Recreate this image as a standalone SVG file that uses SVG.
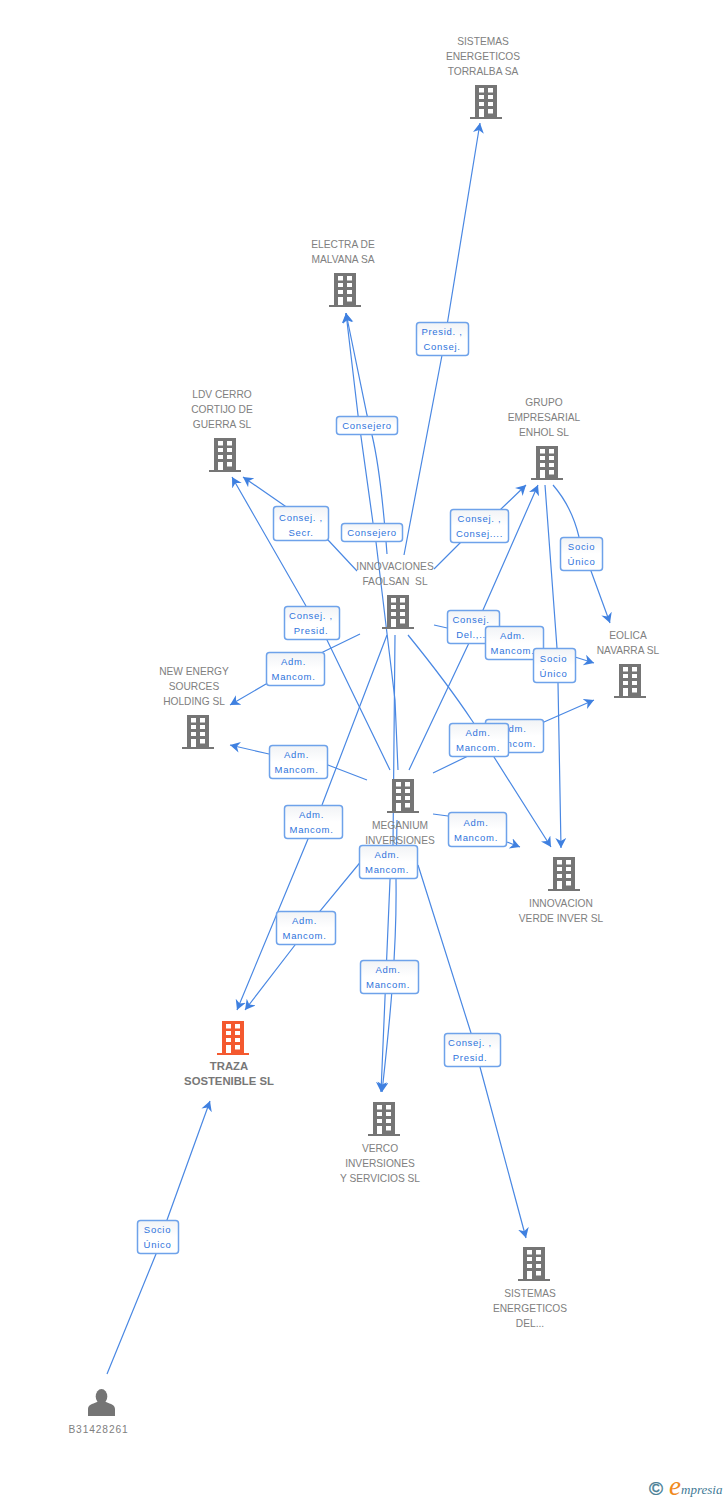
<svg xmlns="http://www.w3.org/2000/svg" width="728" height="1500" viewBox="0 0 728 1500">
<style>
.c{fill:none;stroke:#4a88e3;stroke-width:1.2;marker-end:url(#a)}
.n{font:10.2px "Liberation Sans",Arial,sans-serif;fill:#808080;text-anchor:middle;white-space:pre}
.t{font-weight:bold;font-size:11.300px;fill:#777}
.b rect{fill:url(#g);stroke:#6ea2ea;stroke-width:1.5}
.b text{font:9.5px "Liberation Sans",Arial,sans-serif;fill:#2f74dc;text-anchor:middle;letter-spacing:.7px}
</style>
<defs>
<linearGradient id="g" x1="0" y1="0" x2="0" y2="1"><stop offset="0" stop-color="#f1f3f6"/><stop offset=".5" stop-color="#fff"/><stop offset="1" stop-color="#fff"/></linearGradient>
<marker id="a" markerUnits="userSpaceOnUse" markerWidth="13" markerHeight="13" refX="10" refY="5.500" orient="auto"><path d="M10,5.500L0,0L3,5.500L0,11Z" fill="#3f80e0"/></marker>
<path id="bd" fill-rule="evenodd" d="M5,0H27V32H32V34H0V32H5ZM9,3V7.500H14V3ZM18,3V7.500H23V3ZM9,10V14H14V10ZM18,10V14H23V10ZM9,17V21H14V17ZM18,17V21H23V17ZM9,24V32H14V24ZM18,24V28.500H23V24Z"/>
</defs>
<g id="connectors">
<path class="c" d="M404,555L443,350L480,123"/>
<path class="c" d="M398,770L395,700L376,542L373,523L358,415L346,313"/>
<path class="c" d="M387,554C383,500 378,460 372,435L367,415L346,313"/>
<path class="c" d="M357,571L329,541L285,506L243,477"/>
<path class="c" d="M390,770L327,640L306,606L232,477"/>
<path class="c" d="M434,569L460,543L500,510L526,485"/>
<path class="c" d="M409,770L468,645L483,610L538,485"/>
<path class="c" d="M434,625L575,657L594,663"/>
<path class="c" d="M545,485L557,648L558,683L561,848"/>
<path class="c" d="M553,485C566,500 575,520 579,537L591,571L610,623"/>
<path class="c" d="M433,773L466,757L544,722L594,700"/>
<path class="c" d="M408,635C430,662 455,695 473,722L494,757L551,847"/>
<path class="c" d="M433,814L448,816L507,842L520,847"/>
<path class="c" d="M360,634L323,652L266,684L230,705"/>
<path class="c" d="M367,780L328,765L269,754L230,745"/>
<path class="c" d="M387,635L322,805L308,839L237,1010"/>
<path class="c" d="M372,848L320,911L295,945L245,1010"/>
<path class="c" d="M395,635L393,845L390,880L381,1092"/>
<path class="c" d="M397,820L396,880C397,950 390,1020 382,1092"/>
<path class="c" d="M418,865L471,1033L480,1067L526,1238"/>
<path class="c" d="M107,1374L156,1254L167,1220L210,1101"/>
</g>
<g fill="#757575">
<g id="n-torralba"><use href="#bd" x="470" y="85"/><text class="n"><tspan x="483" y="45">SISTEMAS</tspan><tspan x="483" y="60">ENERGETICOS</tspan><tspan x="483" y="75">TORRALBA SA</tspan></text></g>
<g id="n-electra"><use href="#bd" x="329" y="273"/><text class="n"><tspan x="343" y="248">ELECTRA DE</tspan><tspan x="343" y="263">MALVANA SA</tspan></text></g>
<g id="n-ldv"><use href="#bd" x="209" y="438"/><text class="n"><tspan x="222" y="398">LDV CERRO</tspan><tspan x="222" y="413">CORTIJO DE</tspan><tspan x="222" y="428">GUERRA SL</tspan></text></g>
<g id="n-grupo"><use href="#bd" x="531" y="446"/><text class="n"><tspan x="544" y="406">GRUPO</tspan><tspan x="544" y="421">EMPRESARIAL</tspan><tspan x="544" y="436">ENHOL SL</tspan></text></g>
<g id="n-innovaciones"><use href="#bd" x="382" y="595"/><text class="n"><tspan x="395" y="570">INNOVACIONES</tspan><tspan x="395" y="585">FAOLSAN  SL</tspan></text></g>
<g id="n-eolica"><use href="#bd" x="614" y="664"/><text class="n"><tspan x="628" y="639">EOLICA</tspan><tspan x="628" y="654">NAVARRA SL</tspan></text></g>
<g id="n-newenergy"><use href="#bd" x="182" y="715"/><text class="n"><tspan x="194" y="675">NEW ENERGY</tspan><tspan x="194" y="690">SOURCES</tspan><tspan x="194" y="705">HOLDING SL</tspan></text></g>
<g id="n-meganium"><use href="#bd" x="387" y="779"/><text class="n"><tspan x="400" y="829">MEGANIUM</tspan><tspan x="400" y="844">INVERSIONES</tspan></text></g>
<g id="n-verde"><use href="#bd" x="548" y="857"/><text class="n"><tspan x="561" y="907">INNOVACION</tspan><tspan x="561" y="922">VERDE INVER SL</tspan></text></g>
<g id="n-traza"><use href="#bd" x="217" y="1021" fill="#f4592f"/><text class="n t"><tspan x="229" y="1070">TRAZA</tspan><tspan x="229" y="1085">SOSTENIBLE SL</tspan></text></g>
<g id="n-verco"><use href="#bd" x="368" y="1102"/><text class="n"><tspan x="380" y="1152">VERCO</tspan><tspan x="380" y="1167">INVERSIONES</tspan><tspan x="380" y="1182">Y SERVICIOS SL</tspan></text></g>
<g id="n-sistdel"><use href="#bd" x="518" y="1247"/><text class="n"><tspan x="530" y="1297">SISTEMAS</tspan><tspan x="530" y="1312">ENERGETICOS</tspan><tspan x="530" y="1327">DEL...</tspan></text></g>
<g id="n-person"><ellipse cx="101.500" cy="1396.500" rx="5.800" ry="7.500"/><path d="M88,1416V1409C88,1405 92,1404 97,1402H106C111,1404 115,1405 115,1409V1416Z"/><text class="n"><tspan x="98.500" y="1433" letter-spacing=".9">B31428261</tspan></text></g>
</g>
<g id="labels">
<g class="b"><rect x="416.500" y="322.500" width="52" height="33" rx="3"/><text><tspan x="442" y="335">Presid. ,</tspan><tspan x="442" y="350">Consej.</tspan></text></g>
<g class="b"><rect x="336.500" y="416.500" width="61" height="18" rx="3"/><text x="367" y="429">Consejero</text></g>
<g class="b"><rect x="341.500" y="523.500" width="61" height="18" rx="3"/><text x="372" y="536">Consejero</text></g>
<g class="b"><rect x="273.500" y="506.500" width="55" height="34" rx="3"/><text><tspan x="301" y="521">Consej. ,</tspan><tspan x="301" y="536">Secr.</tspan></text></g>
<g class="b"><rect x="450.500" y="509.500" width="58" height="33" rx="3"/><text><tspan x="479.500" y="522">Consej. ,</tspan><tspan x="479.500" y="537">Consej....</tspan></text></g>
<g class="b"><rect x="560.500" y="537.500" width="42" height="33" rx="3"/><text><tspan x="581.500" y="550">Socio</tspan><tspan x="581.500" y="565">Único</tspan></text></g>
<g class="b"><rect x="284.500" y="606.500" width="55" height="33" rx="3"/><text><tspan x="311" y="619">Consej. ,</tspan><tspan x="311" y="634">Presid.</tspan></text></g>
<g class="b"><rect x="447.500" y="610.500" width="52" height="33" rx="3"/><text><tspan x="471" y="623">Consej.</tspan><tspan x="471" y="638">Del.,..</tspan></text></g>
<g class="b"><rect x="485.500" y="626.500" width="58" height="33" rx="3"/><text><tspan x="512.500" y="639">Adm.</tspan><tspan x="512.500" y="654">Mancom.</tspan></text></g>
<g class="b"><rect x="533.500" y="648.500" width="42" height="34" rx="3"/><text><tspan x="553.500" y="662">Socio</tspan><tspan x="553.500" y="677">Único</tspan></text></g>
<g class="b"><rect x="266.500" y="652.500" width="58" height="33" rx="3"/><text><tspan x="293.500" y="665">Adm.</tspan><tspan x="293.500" y="680">Mancom.</tspan></text></g>
<g class="b"><rect x="485.500" y="719.500" width="58" height="33" rx="3"/><text><tspan x="514" y="732">Adm.</tspan><tspan x="514" y="747">Mancom.</tspan></text></g>
<g class="b"><rect x="449.500" y="723.500" width="59" height="33" rx="3"/><text><tspan x="478" y="736">Adm.</tspan><tspan x="478" y="751">Mancom.</tspan></text></g>
<g class="b"><rect x="269.500" y="745.500" width="58" height="33" rx="3"/><text><tspan x="296.500" y="758">Adm.</tspan><tspan x="296.500" y="773">Mancom.</tspan></text></g>
<g class="b"><rect x="284.500" y="805.500" width="58" height="33" rx="3"/><text><tspan x="311.500" y="818">Adm.</tspan><tspan x="311.500" y="833">Mancom.</tspan></text></g>
<g class="b"><rect x="448.500" y="812.500" width="58" height="34" rx="3"/><text><tspan x="476" y="826">Adm.</tspan><tspan x="476" y="841">Mancom.</tspan></text></g>
<g class="b"><rect x="359.500" y="845.500" width="58" height="33" rx="3"/><text><tspan x="387" y="858">Adm.</tspan><tspan x="387" y="873">Mancom.</tspan></text></g>
<g class="b"><rect x="276.500" y="911.500" width="59" height="33" rx="3"/><text><tspan x="304.500" y="924">Adm.</tspan><tspan x="304.500" y="939">Mancom.</tspan></text></g>
<g class="b"><rect x="360.500" y="960.500" width="58" height="33" rx="3"/><text><tspan x="388" y="973">Adm.</tspan><tspan x="388" y="988">Mancom.</tspan></text></g>
<g class="b"><rect x="444.500" y="1033.500" width="56" height="33" rx="3"/><text><tspan x="470" y="1046">Consej. ,</tspan><tspan x="470" y="1061">Presid.</tspan></text></g>
<g class="b"><rect x="137.500" y="1220.500" width="41" height="33" rx="3"/><text><tspan x="157.500" y="1233">Socio</tspan><tspan x="157.500" y="1248">Único</tspan></text></g>
</g>
<g id="logo">
<text x="649" y="1495" font-family="Liberation Sans,sans-serif" font-size="19" fill="#4a7f96" stroke="#4a7f96" stroke-width=".4">©</text>
<text x="669" y="1495" font-family="Liberation Serif,serif" font-style="italic" font-size="27" fill="#f08a1d">e</text>
<text x="681" y="1494" font-family="Liberation Serif,serif" font-style="italic" font-size="13" fill="#3f7a96">mpresia</text>
</g>
</svg>
